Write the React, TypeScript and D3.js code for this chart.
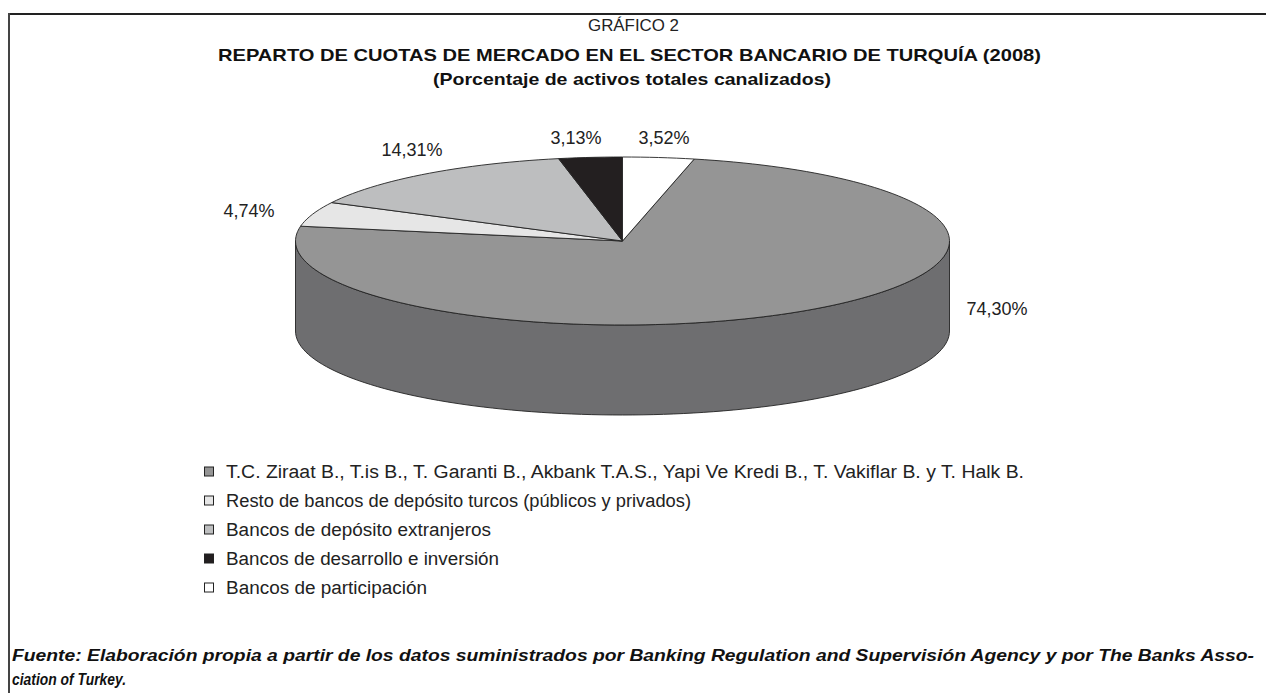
import React from "react";
import * as d3 from "d3";

const categories = [
  "T.C. Ziraat B., T.is B., T. Garanti B., Akbank T.A.S., Yapi Ve Kredi B., T. Vakiflar B. y T. Halk B.",
  "Resto de bancos de depósito turcos (públicos y privados)",
  "Bancos de depósito extranjeros",
  "Bancos de desarrollo e inversión",
  "Bancos de participación",
];
const values = [74.3, 4.74, 14.31, 3.13, 3.52];
const valueLabels = ["74,30%", "4,74%", "14,31%", "3,13%", "3,52%"];
const topColors = ["#959595", "#e6e6e6", "#bdbebf", "#231f20", "#ffffff"];
const sideColors = ["#6e6e70", "#b8b8b8", "#8f8f8f", "#111111", "#d0d0d0"];

const titleLines = [
  "GRÁFICO 2",
  "REPARTO DE CUOTAS DE MERCADO EN EL SECTOR BANCARIO DE TURQUÍA (2008)",
  "(Porcentaje de activos totales canalizados)",
];
const sourceLines = [
  "Fuente: Elaboración propia a partir de los datos suministrados por Banking Regulation and Supervisión Agency y por The Banks Asso-",
  "ciation of Turkey.",
];

// layout
const W = 1266;
const H = 693;
const cx = 622.5;
const cy = 241;
const rx = 327;
const ry = 84;
const depth = 90;
const labelPos: [number, number][] = [
  [997, 315],
  [249, 217],
  [412, 156],
  [576, 144],
  [664, 144],
];
const legendWidths = [798, 465, 265, 273, 201];

const FONT = "'Liberation Sans', Arial, Helvetica, sans-serif";

function pt(a: number, dy = 0): [number, number] {
  return [cx + rx * Math.sin(a), cy - ry * Math.cos(a) + dy];
}

export default function App() {
  const total = d3.sum(values);
  const offset = (values[values.length - 1] / total) * 2 * Math.PI;
  const pie = d3
    .pie<number>()
    .sort(null)
    .value((d) => d)
    .startAngle(offset)
    .endAngle(offset + 2 * Math.PI);
  const arcs = pie(values);

  const arcPath = (a0: number, a1: number, dy = 0) => {
    const n = Math.max(2, Math.ceil(((a1 - a0) / (2 * Math.PI)) * 200));
    return d3.range(n + 1).map((i) => pt(a0 + ((a1 - a0) * i) / n, dy));
  };

  const topPath = (a0: number, a1: number) => {
    const pts = arcPath(a0, a1);
    return "M" + cx + "," + cy + "L" + pts.map((p) => p.join(",")).join("L") + "Z";
  };

  const sides: { d: string; color: string }[] = [];
  arcs.forEach((a, i) => {
    const ranges: [number, number][] = [];
    for (const shift of [0, 2 * Math.PI]) {
      const lo = Math.max(a.startAngle, Math.PI / 2 + shift);
      const hi = Math.min(a.endAngle, (3 * Math.PI) / 2 + shift);
      if (hi > lo) ranges.push([lo, hi]);
    }
    ranges.forEach(([lo, hi]) => {
      const topPts = arcPath(lo, hi);
      const botPts = arcPath(lo, hi, depth).reverse();
      const d =
        "M" + topPts.map((p) => p.join(",")).join("L") + "L" + botPts.map((p) => p.join(",")).join("L") + "Z";
      sides.push({ d, color: sideColors[i] });
    });
  });

  const legendX = 204;
  const legendY0 = 472;
  const legendStep = 29;

  return (
    <svg
      width={W}
      height={H}
      style={{ position: "absolute", left: 0, top: 0, background: "#fff" }}
      fontFamily={FONT}
    >
      <rect x={0} y={0} width={W} height={H} fill="#fff" />
      <line x1={9} y1={14} x2={W} y2={14} stroke="#222" strokeWidth={2} />
      <line x1={9} y1={13} x2={9} y2={H} stroke="#444" strokeWidth={2} />

      <text x={588} y={31} fontSize={17} fill="#222" textLength={91} lengthAdjust="spacingAndGlyphs">
        {titleLines[0]}
      </text>
      <text
        x={218}
        y={61}
        fontSize={17}
        fontWeight="bold"
        fill="#111"
        textLength={823}
        lengthAdjust="spacingAndGlyphs"
      >
        {titleLines[1]}
      </text>
      <text
        x={433}
        y={85}
        fontSize={17}
        fontWeight="bold"
        fill="#111"
        textLength={398}
        lengthAdjust="spacingAndGlyphs"
      >
        {titleLines[2]}
      </text>

      {sides.map((s, i) => (
        <path key={"s" + i} d={s.d} fill={s.color} stroke="#222" strokeWidth={0.9} />
      ))}
      {arcs.map((a, i) => (
        <path
          key={"t" + i}
          d={topPath(a.startAngle, a.endAngle)}
          fill={topColors[i]}
          stroke="#222"
          strokeWidth={0.9}
          strokeLinejoin="round"
        />
      ))}

      {arcs.map((a, i) => (
        <text
          key={"l" + i}
          x={labelPos[i][0]}
          y={labelPos[i][1]}
          textAnchor="middle"
          fontSize={18}
          fill="#222"
        >
          {valueLabels[i]}
        </text>
      ))}

      {categories.map((c, i) => (
        <g key={"g" + i} transform={`translate(${legendX},${legendY0 + i * legendStep})`}>
          <rect x={0.5} y={-5} width={9} height={9} fill={topColors[i]} stroke="#222" strokeWidth={1} />
          <text
            x={22}
            y={6}
            fontSize={18}
            fill="#222"
            textLength={legendWidths[i]}
            lengthAdjust="spacingAndGlyphs"
          >
            {c}
          </text>
        </g>
      ))}

      <text
        x={12}
        y={661}
        fontSize={16}
        fontWeight="bold"
        fontStyle="italic"
        fill="#111"
        textLength={1242}
        lengthAdjust="spacingAndGlyphs"
      >
        {sourceLines[0]}
      </text>
      <text
        x={12}
        y={685}
        fontSize={16}
        fontWeight="bold"
        fontStyle="italic"
        fill="#111"
        textLength={114}
        lengthAdjust="spacingAndGlyphs"
      >
        {sourceLines[1]}
      </text>
    </svg>
  );
}
